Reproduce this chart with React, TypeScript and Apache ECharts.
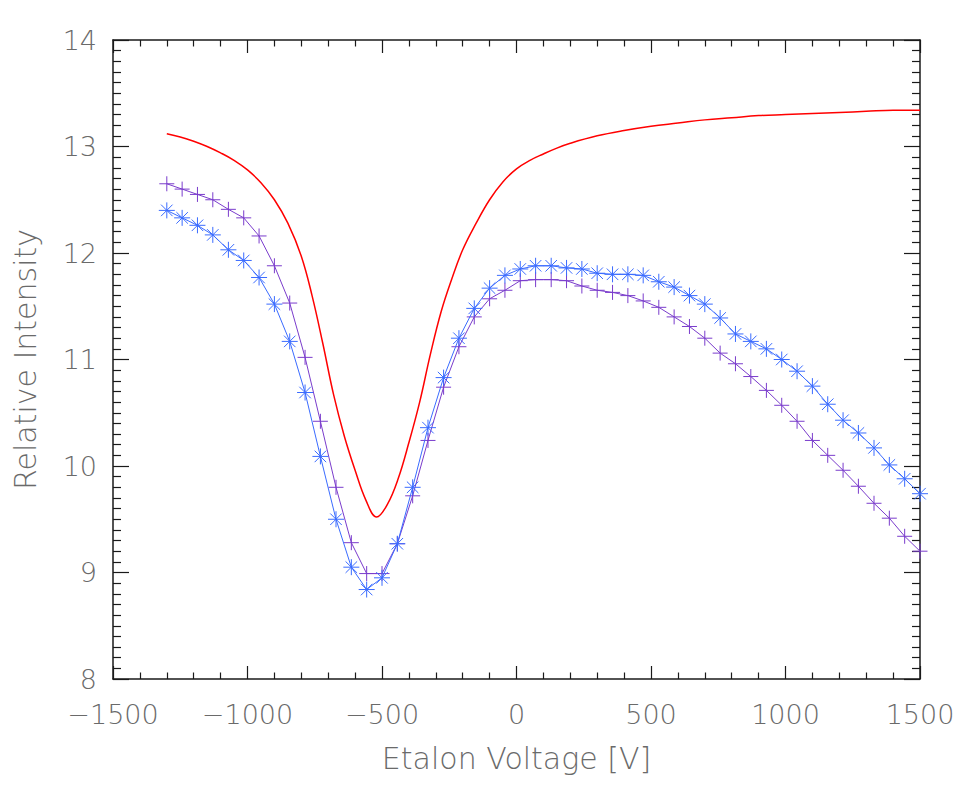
import React, { useEffect, useRef } from "react";
import * as echarts from "echarts";

// Etalon scan: voltages of the measured points (400/7 V apart)
const voltages = [
  -1300, -1243, -1186, -1129, -1071, -1014, -957, -900, -843, -786,
  -729, -671, -614, -557, -500, -443, -386, -329, -271, -214,
  -157, -100, -43, 14, 71, 129, 186, 243, 300, 357,
  414, 471, 529, 586, 643, 700, 757, 814, 871, 929,
  986, 1043, 1100, 1157, 1214, 1271, 1329, 1386, 1443, 1500,
];

// Measured intensity, "+" markers
const plusValues = [
  12.65, 12.6, 12.55, 12.5, 12.41, 12.33, 12.16, 11.88, 11.53, 11.02,
  10.42, 9.8, 9.28, 8.99, 8.99, 9.27, 9.72, 10.24, 10.74, 11.12,
  11.4, 11.57, 11.65, 11.74, 11.75, 11.75, 11.74, 11.69, 11.65, 11.63,
  11.6, 11.55, 11.49, 11.4, 11.31, 11.2, 11.06, 10.96, 10.84, 10.71,
  10.57, 10.42, 10.24, 10.1, 9.96, 9.81, 9.65, 9.51, 9.34, 9.2,
];

// Measured intensity, "*" markers
const starValues = [
  12.4, 12.33, 12.26, 12.17, 12.03, 11.93, 11.77, 11.52, 11.17, 10.69,
  10.09, 9.5, 9.05, 8.84, 8.95, 9.27, 9.8, 10.36, 10.83, 11.2,
  11.48, 11.67, 11.79, 11.85, 11.88, 11.88, 11.86, 11.85, 11.81, 11.8,
  11.8, 11.79, 11.73, 11.68, 11.6, 11.52, 11.39, 11.24, 11.17, 11.1,
  11.0, 10.89, 10.75, 10.58, 10.43, 10.31, 10.17, 10.01, 9.88, 9.74,
];

// Model profile (smooth red curve)
const modelVoltages = [
  -1300, -1250, -1200, -1150, -1100, -1050, -1000, -950, -900, -850,
  -800, -760, -720, -680, -640, -600, -560, -520, -480, -440,
  -400, -360, -320, -280, -240, -200, -150, -100, -50, 0,
  50, 100, 150, 200, 300, 400, 500, 600, 700, 800,
  900, 1000, 1100, 1200, 1300, 1400, 1500,
];
const modelValues = [
  13.12, 13.09, 13.05, 13.0, 12.94, 12.87, 12.78, 12.66, 12.5, 12.28,
  11.97, 11.6, 11.15, 10.67, 10.28, 9.96, 9.68, 9.52, 9.64, 9.88,
  10.22, 10.6, 11.05, 11.45, 11.76, 12.03, 12.28, 12.5, 12.67, 12.79,
  12.87, 12.93, 12.985, 13.03, 13.1, 13.15, 13.19, 13.22, 13.25, 13.27,
  13.29, 13.3, 13.31, 13.32, 13.33, 13.34, 13.34,
];

const X_MIN = -1500;
const X_MAX = 1500;
const X_STEP = 500;
const Y_MIN = 8;
const Y_MAX = 14;
const Y_STEP = 1;

const FONT = "'DejaVu Sans', sans-serif";
const TEXT_COLOR = "#6a6a6a";
const AXIS_COLOR = "#1a1a1a";
const PURPLE = "#7a3ccc";
const BLUE = "#3a6bff";
const RED = "#ff0000";

const PLUS_PATH = "path://M0,-1L0,1M-1,0L1,0";
const STAR_PATH =
  "path://M0,-1L0,1M-1,0L1,0M-0.72,-0.72L0.72,0.72M-0.72,0.72L0.72,-0.72";

const zip = (xs: number[], ys: number[]) => xs.map((x, i) => [x, ys[i]]);
const minusSign = (v: number) => String(v).replace("-", "\u2212");

function xAxisBase(position: "bottom" | "top", labels: boolean) {
  return {
    type: "value" as const,
    position,
    min: X_MIN,
    max: X_MAX,
    interval: X_STEP,
    axisLine: { show: true, onZero: false, lineStyle: { color: AXIS_COLOR, width: 1.5 } },
    axisTick: { show: true, inside: true, length: 13, lineStyle: { color: AXIS_COLOR, width: 1.2 } },
    minorTick: { show: true, splitNumber: 5, length: 6.5, lineStyle: { color: AXIS_COLOR, width: 1.2 } },
    splitLine: { show: false },
    minorSplitLine: { show: false },
    axisLabel: {
      show: labels,
      margin: 22,
      fontFamily: FONT,
      fontWeight: 200,
      fontSize: 27,
      color: TEXT_COLOR,
      formatter: minusSign,
    },
  };
}

function yAxisBase(position: "left" | "right", labels: boolean) {
  return {
    type: "value" as const,
    position,
    min: Y_MIN,
    max: Y_MAX,
    interval: Y_STEP,
    axisLine: { show: true, onZero: false, lineStyle: { color: AXIS_COLOR, width: 1.5 } },
    axisTick: { show: true, inside: true, length: 16, lineStyle: { color: AXIS_COLOR, width: 1.2 } },
    minorTick: { show: true, splitNumber: 10, length: 8, lineStyle: { color: AXIS_COLOR, width: 1.2 } },
    splitLine: { show: false },
    minorSplitLine: { show: false },
    axisLabel: {
      show: labels,
      margin: 16,
      fontFamily: FONT,
      fontWeight: 200,
      fontSize: 27,
      color: TEXT_COLOR,
    },
  };
}

const titleStyle = {
  fontFamily: FONT,
  fontWeight: 200,
  fontSize: 30,
  color: TEXT_COLOR,
  verticalAlign: "middle",
};

export default function App() {
  const ref = useRef<HTMLDivElement>(null);

  useEffect(() => {
    if (!ref.current) return;
    const chart = echarts.init(ref.current, null, { renderer: "svg" });
    chart.setOption({
      animation: false,
      backgroundColor: "#ffffff",
      grid: { left: 113, right: 39, top: 40, bottom: 126, containLabel: false },
      xAxis: [
        {
          ...xAxisBase("bottom", true),
          name: "Etalon Voltage [V]",
          nameLocation: "middle",
          nameGap: 79,
          nameTextStyle: titleStyle,
        },
        xAxisBase("top", false),
      ],
      yAxis: [
        {
          ...yAxisBase("left", true),
          name: "Relative Intensity",
          nameLocation: "middle",
          nameGap: 88,
          nameTextStyle: titleStyle,
        },
        yAxisBase("right", false),
      ],
      series: [
        {
          type: "line",
          name: "model",
          data: zip(modelVoltages, modelValues),
          smooth: 0.4,
          showSymbol: false,
          symbol: "none",
          lineStyle: { color: RED, width: 1.5 },
          z: 2,
        },
        {
          type: "line",
          name: "plus",
          data: zip(voltages, plusValues),
          symbol: PLUS_PATH,
          symbolSize: 15,
          itemStyle: { color: PURPLE, borderColor: PURPLE, borderWidth: 1 },
          lineStyle: { color: PURPLE, width: 1 },
          z: 3,
        },
        {
          type: "line",
          name: "star",
          data: zip(voltages, starValues),
          symbol: STAR_PATH,
          symbolSize: 16,
          itemStyle: { color: BLUE, borderColor: BLUE, borderWidth: 1 },
          lineStyle: { color: BLUE, width: 1 },
          z: 4,
        },
      ],
    });
    return () => chart.dispose();
  }, []);

  return (
    <div
      ref={ref}
      style={{ position: "absolute", left: 0, top: 0, width: 959, height: 805 }}
    />
  );
}
